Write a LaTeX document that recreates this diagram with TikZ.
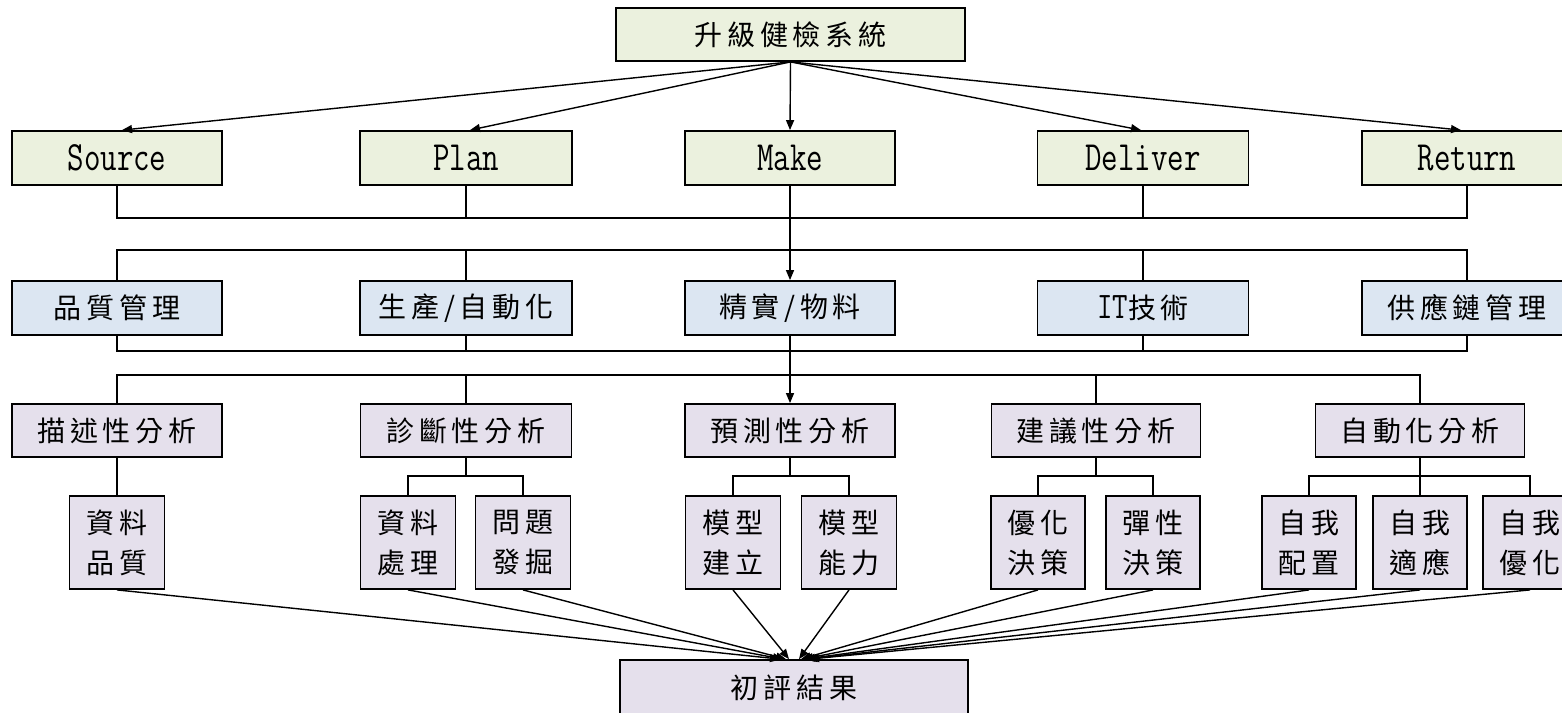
\documentclass[tikz,border=0pt]{standalone}
\usepackage{fontspec}
\usepackage{graphicx}
\usetikzlibrary{arrows.meta}
\newfontfamily\cjk[LetterSpace=17]{Noto Sans CJK TC}
\definecolor{gfill}{HTML}{EBF1DE}
\definecolor{bfill}{HTML}{DCE6F2}
\definecolor{pfill}{HTML}{E5E0EC}
\newcommand{\lat}[1]{\scalebox{1}[1.3]{\fontsize{32}{38}\selectfont\ttfamily #1}}
\tikzset{
  box/.style={draw=black, line width=1.8pt, inner sep=0pt, minimum height=54pt, minimum width=210pt, align=center, font=\fontsize{28}{40}\selectfont\cjk},
  gbox/.style={box, fill=gfill},
  bbox/.style={box, fill=bfill},
  pbox/.style={box, fill=pfill},
  sbox/.style={box, fill=pfill, minimum width=95pt, minimum height=93pt},
  ln/.style={line width=1.4pt, draw=black},
  thk/.style={line width=2.6pt, draw=black},
  arr/.style={line width=1.4pt, draw=black, -{Triangle[length=10pt,width=8pt]}}
}
\begin{document}
\begin{tikzpicture}[x=1pt,y=-1pt]
\useasboundingbox (0,0) rectangle (1562,712);
\clip (0,0) rectangle (1562,712);
% top
\node[gbox, minimum width=349pt, minimum height=53pt] (top) at (790.5,34.5) {升級健檢系統};
% row 1
\node[gbox] (src) at (117,158) {\lat{Source}};
\node[gbox, minimum width=212pt] (pln) at (466,158) {\lat{Plan}};
\node[gbox] (mak) at (790,158) {\lat{Make}};
\node[gbox, minimum width=211pt] (dlv) at (1143,158) {\lat{Deliver}};
\node[gbox] (ret) at (1467,158) {\lat{Return}};
% row 2
\node[bbox] (qm) at (117,308) {品質管理};
\node[bbox, minimum width=212pt] (pa) at (466,308) {生產/自動化};
\node[bbox] (lean) at (790,308) {精實/物料};
\node[bbox, minimum width=211pt] (it) at (1143,308) {\scalebox{1}[1.25]{\fontsize{30}{38}\selectfont\ttfamily IT}技術};
\node[bbox] (scm) at (1467,308) {供應鏈管理};
% row 3
\node[pbox, minimum height=53pt] (desc) at (117,430.5) {描述性分析};
\node[pbox, minimum height=53pt, minimum width=211pt] (diag) at (466,430.5) {診斷性分析};
\node[pbox, minimum height=53pt] (pred) at (790,430.5) {預測性分析};
\node[pbox, minimum height=53pt, minimum width=209pt] (pres) at (1096,430.5) {建議性分析};
\node[pbox, minimum height=53pt, minimum width=209pt] (auto) at (1420,430.5) {自動化分析};
% row 4
\node[sbox] (dq) at (117,542.5) {資料\\品質};
\node[sbox] (dp) at (408,542.5) {資料\\處理};
\node[sbox] (pd) at (523,542.5) {問題\\發掘};
\node[sbox] (mb) at (733,542.5) {模型\\建立};
\node[sbox] (mc) at (849,542.5) {模型\\能力};
\node[sbox, minimum width=94pt] (od) at (1038,542.5) {優化\\決策};
\node[sbox, minimum width=94pt] (fd) at (1153,542.5) {彈性\\決策};
\node[sbox, minimum width=94pt] (sc) at (1309,542.5) {自我\\配置};
\node[sbox, minimum width=94pt] (sa) at (1420,542.5) {自我\\適應};
\node[sbox, minimum width=94pt] (so) at (1530,542.5) {自我\\優化};
% result
\node[pbox, minimum width=348pt, minimum height=56pt] (res) at (794,688) {初評結果};
% bus coordinates
\coordinate (bus1) at (0,218);
\coordinate (bus2) at (0,250);
\coordinate (bus3) at (0,351);
\coordinate (bus4) at (0,375);
\coordinate (sb) at (0,476);
% top arrows
\draw[arr] (top.south) -- ([xshift=5pt]src.north);
\draw[arr] (top.south) -- ([xshift=4pt]pln.north);
\draw[arr] (top.south) -- (mak.north);
\draw[arr] (top.south) -- ([xshift=-2pt]dlv.north);
\draw[arr] (top.south) -- ([xshift=-6pt]ret.north);
% row 1 bus
\draw[ln] (src.south) -- (src.south |- bus1) -- (ret.south |- bus1) -- (ret.south);
\draw[ln] (pln.south) -- (pln.south |- bus1);
\draw[ln] (dlv.south) -- (dlv.south |- bus1);
\draw[arr] (mak.south) -- (lean.north);
% row 2 top bus
\draw[ln] (qm.north) -- (qm.north |- bus2) -- (scm.north |- bus2) -- (scm.north);
\draw[ln] (pa.north) -- (pa.north |- bus2);
\draw[ln] (it.north) -- (it.north |- bus2);
\draw[thk] (pa.north |- bus2) -- (it.north |- bus2);
% row 2 bottom bus
\draw[ln] (qm.south) -- (qm.south |- bus3) -- (scm.south |- bus3) -- (scm.south);
\draw[ln] (pa.south) -- (pa.south |- bus3);
\draw[ln] (it.south) -- (it.south |- bus3);
\draw[thk] (pa.south |- bus3) -- (it.south |- bus3);
\draw[arr] (lean.south) -- (pred.north);
% row 3 top bus
\draw[ln] (desc.north) -- (desc.north |- bus4) -- (auto.north |- bus4) -- (auto.north);
\draw[ln] (diag.north) -- (diag.north |- bus4);
\draw[ln] (pres.north) -- (pres.north |- bus4);
% row 3 to row 4
\draw[ln] (desc.south) -- (dq.north);
\draw[ln] (diag.south) -- (diag.south |- sb);
\draw[ln] (dp.north) -- (dp.north |- sb) -- (pd.north |- sb) -- (pd.north);
\draw[ln] (pred.south) -- (pred.south |- sb);
\draw[ln] (mb.north) -- (mb.north |- sb) -- (mc.north |- sb) -- (mc.north);
\draw[ln] (pres.south) -- (pres.south |- sb);
\draw[ln] (od.north) -- (od.north |- sb) -- (fd.north |- sb) -- (fd.north);
\draw[ln] (auto.south) -- (sa.north);
\draw[ln] (sc.north) -- (sc.north |- sb) -- (so.north |- sb) -- (so.north);
% bottom arrows
\draw[arr] (dq.south) -- ([xshift=-14pt]res.north);
\draw[arr] (dp.south) -- ([xshift=-11pt]res.north);
\draw[arr] (pd.south) -- ([xshift=-8pt]res.north);
\draw[arr] (mb.south) -- ([xshift=-5pt]res.north);
\draw[arr] (mc.south) -- ([xshift=5pt]res.north);
\draw[arr] (od.south) -- ([xshift=7pt]res.north);
\draw[arr] (fd.south) -- ([xshift=9pt]res.north);
\draw[arr] (sc.south) -- ([xshift=11pt]res.north);
\draw[arr] (sa.south) -- ([xshift=13pt]res.north);
\draw[arr] (so.south) -- ([xshift=15pt]res.north);
\end{tikzpicture}
\end{document}
